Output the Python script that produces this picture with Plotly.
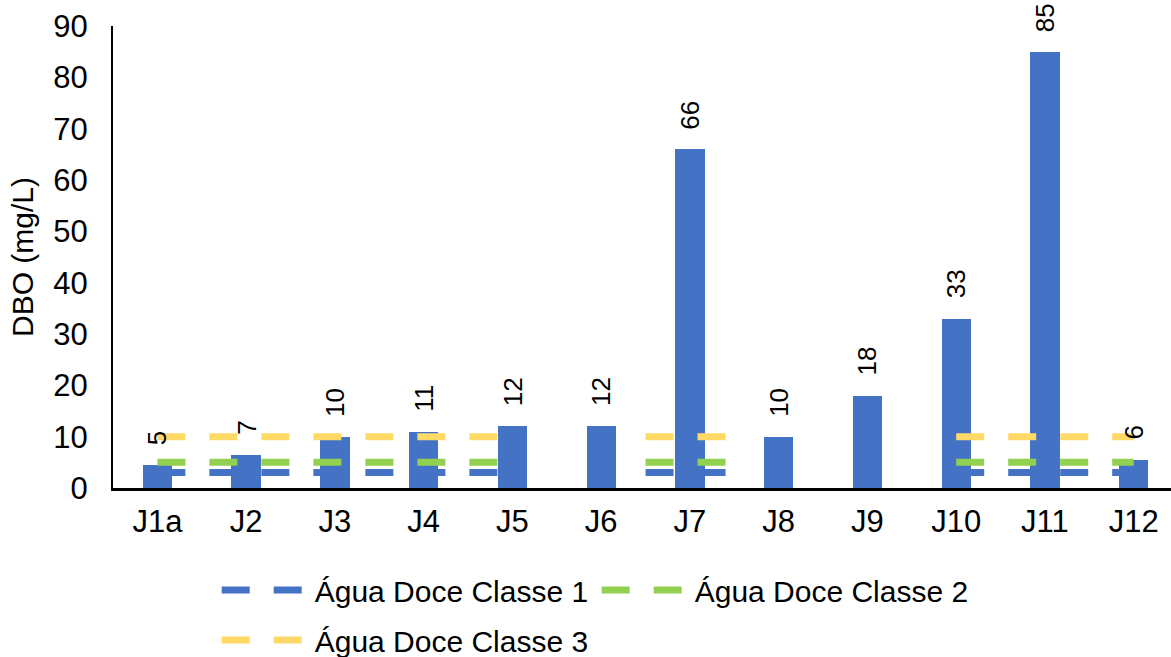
import plotly.graph_objects as go

# ---- data ----
categories = ["J1a", "J2", "J3", "J4", "J5", "J6", "J7", "J8", "J9", "J10", "J11", "J12"]
dbo_values = [4.5, 6.5, 10, 11, 12, 12, 66, 10, 18, 33, 85, 5.5]
dbo_labels = ["5", "7", "10", "11", "12", "12", "66", "10", "18", "33", "85", "6"]

classe1 = [3, 3, 3, 3, 3, None, 3, None, None, 3, 3, 3]
classe2 = [5, 5, 5, 5, 5, None, 5, None, None, 5, 5, 5]
classe3 = [10, 10, 10, 10, 10, None, 10, None, None, 10, 10, 10]

series_names = ["Água Doce Classe 1", "Água Doce Classe 2", "Água Doce Classe 3"]
series_colors = ["#4472C4", "#92D050", "#FFD966"]
series_legends = ["legend", "legend", "legend2"]

FONT = "Liberation Sans, Arial, sans-serif"
idx = list(range(len(categories)))


def segments(vals):
    """Turn per-category values with gaps into line coordinates.
    Runs of consecutive categories are joined; an isolated category
    spans half a category on each side."""
    xs, ys = [], []
    i = 0
    n = len(vals)
    while i < n:
        if vals[i] is None:
            i += 1
            continue
        j = i
        while j + 1 < n and vals[j + 1] is not None:
            j += 1
        if j == i:
            xs += [i - 0.5, i + 0.5, None]
            ys += [vals[i], vals[i], None]
        else:
            xs += list(range(i, j + 1)) + [None]
            ys += vals[i:j + 1] + [None]
        i = j + 1
    return xs, ys


fig = go.Figure()

fig.add_trace(go.Bar(
    x=idx, y=dbo_values, width=0.33,
    marker=dict(color="#4472C4", line=dict(width=0)),
    showlegend=False, name="DBO",
))

for vals, name, col, leg in zip([classe1, classe2, classe3], series_names,
                                series_colors, series_legends):
    xs, ys = segments(vals)
    fig.add_trace(go.Scatter(
        x=xs, y=ys, mode="lines", name=name, legend=leg,
        line=dict(color=col, width=7, dash="28px,24px"),
        connectgaps=False,
    ))

for i, (v, lab) in enumerate(zip(dbo_values, dbo_labels)):
    fig.add_annotation(
        x=i, y=v, text=lab, textangle=-90, showarrow=False,
        yanchor="bottom", xanchor="center", yshift=18,
        font=dict(family=FONT, size=26, color="#000000"),
    )

legend_common = dict(
    orientation="h", xanchor="left", yanchor="middle", yref="container",
    font=dict(family=FONT, size=30, color="#000000"),
    entrywidth=277, entrywidthmode="pixels", itemwidth=88,
    bgcolor="rgba(0,0,0,0)",
)

fig.update_layout(
    width=1171, height=657,
    margin=dict(l=113, r=0, t=26, b=169),
    paper_bgcolor="white", plot_bgcolor="white",
    font=dict(family=FONT, size=30, color="#000000"),
    bargap=0,
    xaxis=dict(
        range=[-0.5, 11.42], tickmode="array", tickvals=idx, ticktext=categories,
        showgrid=False, zeroline=False, showline=True, linecolor="#000000",
        linewidth=3, ticks="", ticklabelstandoff=4, automargin=False,
        tickfont=dict(family=FONT, size=31, color="#000000"),
    ),
    yaxis=dict(
        range=[0, 90], dtick=10, showgrid=False, zeroline=False,
        showline=True, linecolor="#000000", linewidth=2, ticks="",
        ticklabelstandoff=17, automargin=False,
        tickfont=dict(family=FONT, size=31, color="#000000"),
        title=dict(text="DBO (mg/L)", standoff=11,
                   font=dict(family=FONT, size=30, color="#000000")),
    ),
    legend=dict(x=0.098, y=0.102, **legend_common),
    legend2=dict(x=0.098, y=0.026, **legend_common),
)

fig.write_html(
    "out.html",
    config={"displayModeBar": False},
    post_script="document.body.style.margin='0';document.body.style.overflow='hidden';",
)
